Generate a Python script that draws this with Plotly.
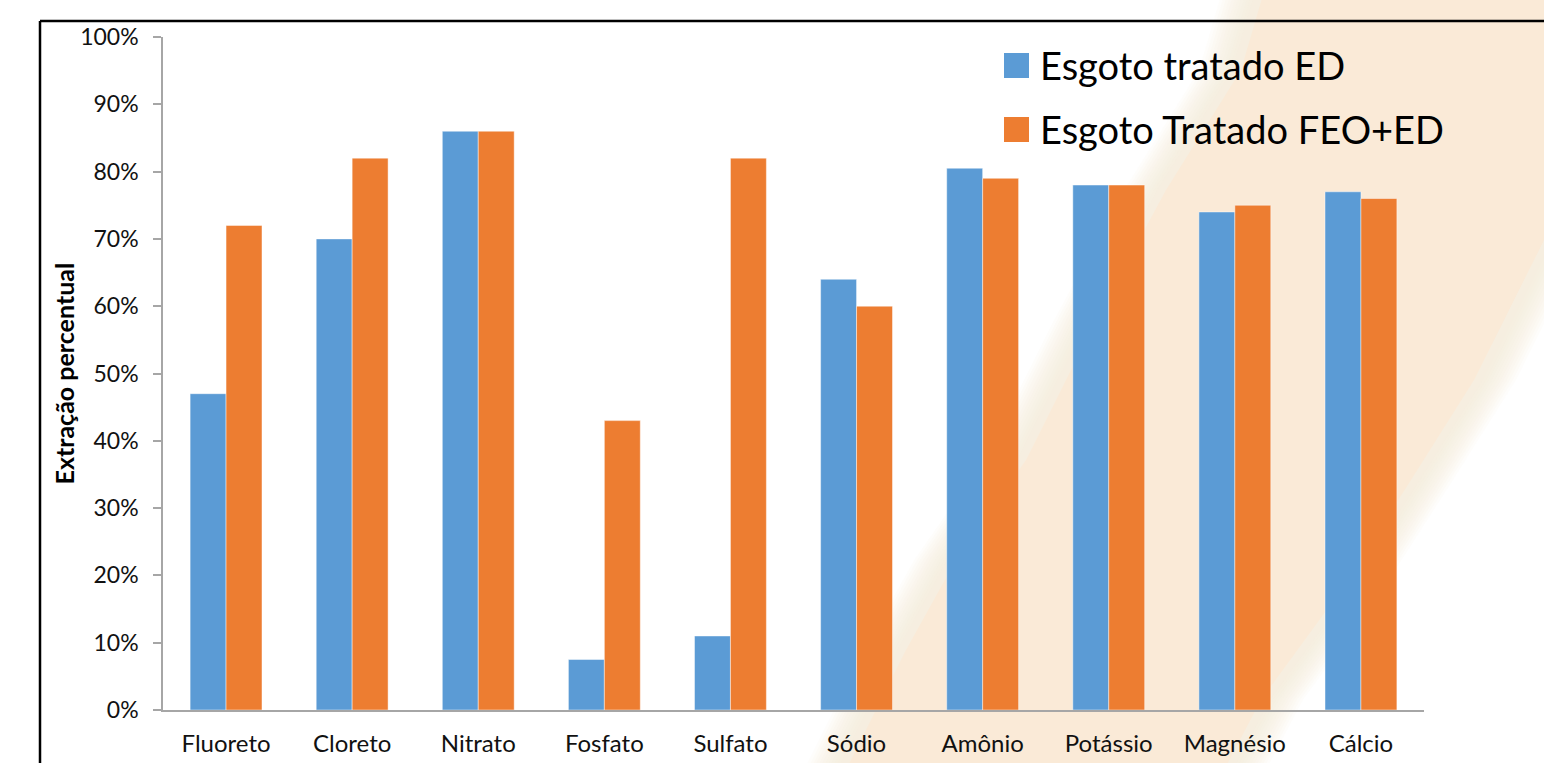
import plotly.graph_objects as go

# Categories and series values (percent extraction)
categorias = ["Fluoreto", "Cloreto", "Nitrato", "Fosfato", "Sulfato",
              "Sódio", "Amônio", "Potássio", "Magnésio", "Cálcio"]
esgoto_ed = [47, 70, 86, 7.5, 11, 64, 80.5, 78, 74, 77]
esgoto_feo_ed = [72, 82, 86, 43, 82, 60, 79, 78, 75, 76]
nomes_series = ["Esgoto tratado ED", "Esgoto Tratado FEO+ED"]
ticks_y = [0, 10, 20, 30, 40, 50, 60, 70, 80, 90, 100]
rotulos_y = ["0%", "10%", "20%", "30%", "40%", "50%", "60%", "70%", "80%", "90%", "100%"]

AZUL = "#5B9BD5"
LARANJA = "#ED7D31"
FONTE = "Lato"

# Page and plot-area geometry in pixels
W, H = 1544, 763
PL, PR, PT, PB = 163, 1424, 37, 710


def fx(x):
    return (x - PL) / (PR - PL)


def fy(y):
    return (PB - y) / (PB - PT)


def caminho(pontos):
    return "M " + " L ".join(f"{fx(x):.4f},{fy(y):.4f}" for x, y in pontos) + " Z"


fig = go.Figure()
for nome, valores, cor in [(nomes_series[0], esgoto_ed, AZUL),
                           (nomes_series[1], esgoto_feo_ed, LARANJA)]:
    fig.add_trace(go.Bar(
        x=categorias, y=valores, name=nome,
        marker=dict(color=cor, line=dict(color="rgba(255,255,255,0.45)", width=1)),
        showlegend=False,
    ))

# Slide decoration: soft pale-orange diagonal band behind the chart
borda_esq = [(1257, -5), (1235, 70), (1160, 190), (1090, 320), (1020, 460),
             (950, 560), (900, 650), (840, 770)]
borda_dir = [(1230, 770), (1267, 700), (1340, 600), (1417, 480), (1480, 380),
             (1550, 240), (1550, -5)]


def deslocar(pts, dx):
    return [(x + dx, y) for x, y in pts]


formas = []
# stacked translucent layers give the band a soft edge
for d in range(36, 0, -3):
    pts = deslocar(borda_esq, -d) + deslocar(borda_dir, d)
    formas.append(dict(type="path", xref="paper", yref="paper", path=caminho(pts),
                       fillcolor="#FAEAD7", opacity=0.1, line=dict(width=0),
                       layer="below"))
pts = deslocar(borda_esq, 6) + deslocar(borda_dir, -6)
formas.append(dict(type="path", xref="paper", yref="paper", path=caminho(pts),
                   fillcolor="#FAEAD7", opacity=1, line=dict(width=0),
                   layer="below"))

# Chart frame (left and top edges visible)
formas.append(dict(type="line", xref="paper", yref="paper",
                   x0=fx(40), x1=fx(40), y0=fy(21), y1=fy(800),
                   line=dict(color="black", width=2.5)))
formas.append(dict(type="line", xref="paper", yref="paper",
                   x0=fx(40), x1=fx(1600), y0=fy(21), y1=fy(21),
                   line=dict(color="black", width=2.5)))

# Legend swatches
for (y0, y1), cor in [((53, 78), AZUL), ((117, 142), LARANJA)]:
    formas.append(dict(type="rect", xref="paper", yref="paper",
                       x0=fx(1004), x1=fx(1029), y0=fy(y1), y1=fy(y0),
                       fillcolor=cor, line=dict(width=0)))

anotacoes = [
    dict(text=nomes_series[0], xref="paper", yref="paper", x=fx(1038), y=fy(65),
         xanchor="left", yanchor="middle", showarrow=False,
         font=dict(family=FONTE, size=38, color="#000")),
    dict(text=nomes_series[1], xref="paper", yref="paper", x=fx(1038), y=fy(129),
         xanchor="left", yanchor="middle", showarrow=False,
         font=dict(family=FONTE, size=38, color="#000")),
    dict(text="<b>Extração percentual</b>", xref="paper", yref="paper",
         x=fx(63), y=0.5, textangle=-90, xanchor="center", yanchor="middle",
         showarrow=False, font=dict(family=FONTE, size=25, color="#000")),
]

fig.update_layout(
    width=W, height=H,
    margin=dict(l=PL, r=W - PR, t=PT, b=H - PB, pad=0, autoexpand=False),
    paper_bgcolor="white",
    plot_bgcolor="rgba(0,0,0,0)",
    barmode="group",
    bargap=0.43,
    bargroupgap=0,
    shapes=formas,
    annotations=anotacoes,
    font=dict(family=FONTE, size=24, color="#111"),
)

fig.update_xaxes(
    automargin=False,
    showgrid=False, zeroline=False,
    showline=True, linecolor="#A6A6A6", linewidth=1.5,
    ticks="", tickfont=dict(family=FONTE, size=24, color="#111"),
    ticklabelstandoff=11,
)

fig.update_yaxes(
    automargin=False,
    range=[0, 100], tickmode="array", tickvals=ticks_y, ticktext=rotulos_y,
    showgrid=False, zeroline=False,
    showline=True, linecolor="#A6A6A6", linewidth=1.5,
    ticks="outside", ticklen=8, tickcolor="#A6A6A6", tickwidth=1.5,
    tickfont=dict(family=FONTE, size=23, color="#111"),
    ticklabelstandoff=10,
)

fig.write_html("out.html")
